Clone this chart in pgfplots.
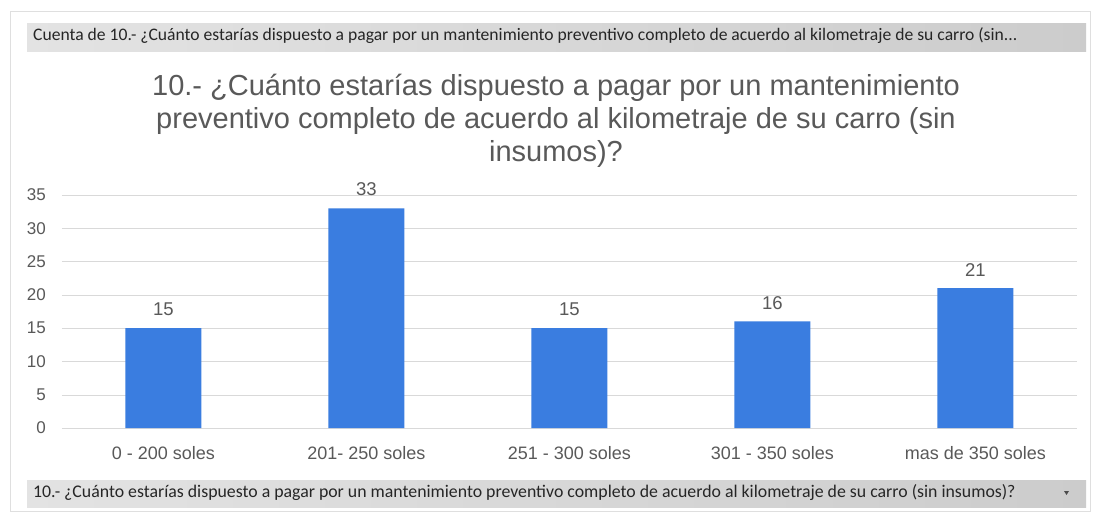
\documentclass[border=0pt]{standalone}
\usepackage{pgfplots}
\pgfplotsset{compat=1.18}
\usepackage{fontspec}
\setmainfont{Liberation Sans}
\newfontfamily\calfont{Carlito}
\definecolor{barblue}{HTML}{3A7DE0}
\definecolor{txt}{HTML}{595959}
\definecolor{gridc}{HTML}{D9D9D9}
\begin{document}
\begin{tikzpicture}
\useasboundingbox (0,0) rectangle (1094bp,-514bp);
\fill[white] (0,0) rectangle (1094bp,-514bp);
\draw[gray!25] (10bp,-11bp) rectangle (1090bp,-511bp);
\shade[left color=gray!22, right color=gray!40] (27bp,-23bp) rectangle (1086bp,-51bp);
\node[anchor=west, inner sep=0pt, text=black!85, font=\calfont\fontsize{17.6bp}{19bp}\selectfont] at (33bp,-36bp) {Cuenta de 10.- ¿Cuánto estarías dispuesto a pagar por un mantenimiento preventivo completo de acuerdo al kilometraje de su carro (sin...};
\shade[left color=gray!22, right color=gray!40] (27bp,-480bp) rectangle (1086bp,-507bp);
\node[anchor=west, inner sep=0pt, text=black!85, font=\calfont\fontsize{17.8bp}{19bp}\selectfont] at (33bp,-493bp) {10.- ¿Cuánto estarías dispuesto a pagar por un mantenimiento preventivo completo de acuerdo al kilometraje de su carro (sin insumos)?};
\fill[black!70] (1064bp,-491bp) -- (1069bp,-491bp) -- (1066.5bp,-495bp) -- cycle;
\node[align=center, text=txt, font=\fontsize{29bp}{33bp}\selectfont] at (556bp,-121bp) {10.- ¿Cuánto estarías dispuesto a pagar por un mantenimiento\\preventivo completo de acuerdo al kilometraje de su carro (sin\\insumos)?};
\begin{axis}[
  at={(62bp,-428bp)}, anchor=south west,
  scale only axis, width=1015bp, height=233bp,
  xmin=-0.5, xmax=4.5, ymin=0, ymax=35,
  ytick={0,5,...,35},
  xtick={0,1,2,3,4},
  xticklabels={0 - 200 soles, 201- 250 soles, 251 - 300 soles, 301 - 350 soles, mas de 350 soles},
  ymajorgrids, grid style={gridc},
  axis line style={draw=none},
  major tick length=0pt,
  /pgf/number format/assume math mode=true,
  yticklabel style={inner sep=0pt, xshift=-16bp, text=txt, font=\fontsize{17bp}{19bp}\selectfont},
  xticklabel style={inner sep=0pt, yshift=-18bp, text=txt, font=\fontsize{18bp}{20bp}\selectfont},
  ybar, bar width=76bp,
  nodes near coords,
  nodes near coords style={inner sep=0pt, yshift=12bp, text=txt, font=\fontsize{18.5bp}{20bp}\selectfont},
]
\addplot[fill=barblue, draw=none] coordinates {(0,15) (1,33) (2,15) (3,16) (4,21)};
\end{axis}
\end{tikzpicture}
\end{document}
